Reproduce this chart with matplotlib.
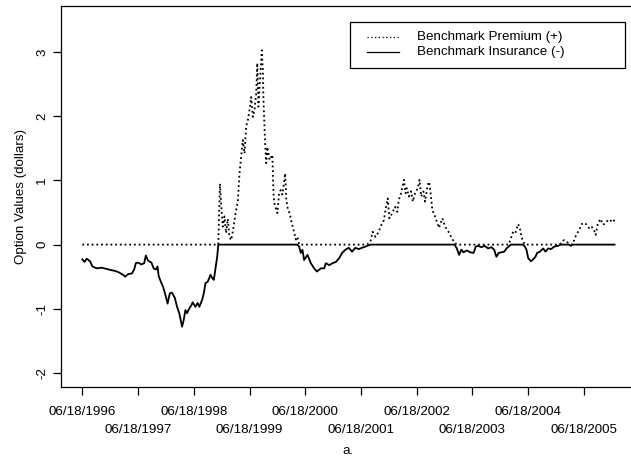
import datetime
import numpy as np
import matplotlib
matplotlib.use("Agg")
import matplotlib.pyplot as plt
from matplotlib.patches import Rectangle
from matplotlib.lines import Line2D

plt.rcParams['font.family'] = ['Liberation Sans', 'DejaVu Sans']

# Observation times (decimal years)
years = [
    1996.46, 1996.50, 1996.54, 1996.60, 1996.64, 1996.72, 1996.81, 1996.90, 1996.99, 1997.05,
    1997.11, 1997.19, 1997.23, 1997.28, 1997.35, 1997.39, 1997.42, 1997.46, 1997.52, 1997.57,
    1997.60, 1997.64, 1997.70, 1997.74, 1997.78, 1997.81, 1997.83, 1997.87, 1997.91, 1997.95,
    1997.99, 1998.03, 1998.07, 1998.12, 1998.16, 1998.20, 1998.23, 1998.25, 1998.28, 1998.31,
    1998.34, 1998.37, 1998.42, 1998.44, 1998.49, 1998.53, 1998.56, 1998.61, 1998.64, 1998.67,
    1998.71, 1998.76, 1998.79, 1998.82, 1998.85, 1998.88, 1998.90, 1998.92, 1998.93, 1998.95,
    1998.98, 1999.01, 1999.04, 1999.07, 1999.10, 1999.13, 1999.16, 1999.21, 1999.25, 1999.28,
    1999.31, 1999.34, 1999.37, 1999.40, 1999.43, 1999.46, 1999.49, 1999.52, 1999.55, 1999.58,
    1999.60, 1999.62, 1999.65, 1999.68, 1999.70, 1999.71, 1999.74, 1999.76, 1999.78, 1999.82,
    1999.85, 1999.87, 1999.89, 1999.91, 1999.94, 1999.96, 1999.99, 2000.02, 2000.05, 2000.10,
    2000.12, 2000.15, 2000.18, 2000.22, 2000.25, 2000.29, 2000.32, 2000.35, 2000.38, 2000.41,
    2000.44, 2000.50, 2000.56, 2000.62, 2000.67, 2000.74, 2000.80, 2000.83, 2000.89, 2000.95,
    2001.01, 2001.07, 2001.12, 2001.18, 2001.24, 2001.30, 2001.36, 2001.42, 2001.48, 2001.57,
    2001.63, 2001.67, 2001.72, 2001.78, 2001.81, 2001.87, 2001.91, 2001.94, 2001.97, 2002.02,
    2002.07, 2002.11, 2002.14, 2002.18, 2002.23, 2002.26, 2002.28, 2002.32, 2002.36, 2002.39,
    2002.43, 2002.48, 2002.51, 2002.54, 2002.58, 2002.61, 2002.65, 2002.68, 2002.71, 2002.74,
    2002.78, 2002.82, 2002.86, 2002.90, 2002.92, 2002.97, 2003.03, 2003.09, 2003.14, 2003.18,
    2003.22, 2003.26, 2003.30, 2003.36, 2003.42, 2003.48, 2003.52, 2003.56, 2003.62, 2003.68,
    2003.74, 2003.80, 2003.85, 2003.89, 2003.93, 2003.98, 2004.03, 2004.07, 2004.11, 2004.15,
    2004.19, 2004.23, 2004.28, 2004.31, 2004.34, 2004.37, 2004.40, 2004.43, 2004.46, 2004.51,
    2004.55, 2004.59, 2004.62, 2004.67, 2004.73, 2004.77, 2004.82, 2004.87, 2004.93, 2004.99,
    2005.05, 2005.10, 2005.14, 2005.19, 2005.23, 2005.26, 2005.30, 2005.34, 2005.38, 2005.42,
    2005.47, 2005.51, 2005.55, 2005.59, 2005.64, 2005.67, 2005.71, 2005.76, 2005.80, 2005.84,
    2005.89, 2005.93, 2005.98, 2006.01,
]

# Benchmark option value (dollars); positive part is the premium, negative part the insurance
value = [
    -0.23, -0.27, -0.22, -0.26, -0.34, -0.37, -0.36, -0.38, -0.40, -0.41,
    -0.43, -0.47, -0.50, -0.46, -0.45, -0.39, -0.29, -0.28, -0.31, -0.29,
    -0.17, -0.25, -0.28, -0.37, -0.39, -0.34, -0.49, -0.58, -0.66, -0.78,
    -0.92, -0.76, -0.75, -0.83, -0.97, -1.07, -1.20, -1.28, -1.17, -1.02,
    -1.07, -1.01, -0.94, -0.90, -0.97, -0.91, -0.97, -0.86, -0.76, -0.60,
    -0.58, -0.47, -0.52, -0.55, -0.37, -0.19, 0.00, 0.60, 0.95, 0.65,
    0.28, 0.44, 0.18, 0.40, 0.12, 0.07, 0.20, 0.49, 0.67, 1.11,
    1.37, 1.63, 1.42, 1.84, 1.94, 2.10, 2.30, 1.99, 2.10, 2.36,
    2.83, 2.15, 2.57, 3.03, 2.72, 2.25, 1.58, 1.27, 1.52, 1.32,
    1.37, 1.40, 0.80, 0.62, 0.55, 0.49, 0.80, 0.85, 0.78, 1.11,
    0.70, 0.54, 0.49, 0.33, 0.23, 0.08, 0.12, -0.03, -0.13, -0.08,
    -0.24, -0.16, -0.29, -0.37, -0.42, -0.37, -0.37, -0.29, -0.32, -0.29,
    -0.27, -0.21, -0.13, -0.08, -0.05, -0.11, -0.05, -0.07, -0.05, -0.02,
    0.05, 0.20, 0.12, 0.20, 0.28, 0.38, 0.59, 0.72, 0.41, 0.49,
    0.59, 0.51, 0.70, 0.80, 1.01, 0.80, 0.88, 0.75, 0.83, 0.67,
    0.80, 0.88, 1.01, 0.75, 0.83, 0.67, 0.90, 0.98, 0.80, 0.54,
    0.46, 0.36, 0.26, 0.36, 0.41, 0.28, 0.20, 0.10, 0.03, -0.06,
    -0.16, -0.08, -0.12, -0.09, -0.12, -0.13, -0.03, -0.02, -0.04, -0.02,
    -0.06, -0.04, -0.08, -0.19, -0.13, -0.12, -0.11, -0.06, -0.03, 0.10,
    0.20, 0.18, 0.32, 0.26, 0.12, 0.05, -0.03, -0.08, -0.21, -0.26,
    -0.23, -0.19, -0.13, -0.11, -0.06, -0.11, -0.06, -0.07, -0.03, -0.02,
    0.02, 0.07, 0.05, 0.02, -0.02, 0.01, 0.11, 0.18, 0.23, 0.32,
    0.34, 0.31, 0.26, 0.29, 0.23, 0.15, 0.33, 0.40, 0.31, 0.33,
    0.38, 0.36, 0.40, 0.36,
]

tick_dates = ["06/18/1996", "06/18/1997", "06/18/1998", "06/18/1999", "06/18/2000",
              "06/18/2001", "06/18/2002", "06/18/2003", "06/18/2004", "06/18/2005"]

y_ticks = [-2, -1, 0, 1, 2, 3]

legend_labels = ["Benchmark Premium (+)", "Benchmark Insurance (-)"]


def to_decimal_year(s):
    m, d, y = (int(p) for p in s.split('/'))
    start = datetime.date(y, 1, 1)
    doy = (datetime.date(y, m, d) - start).days
    ndays = (datetime.date(y + 1, 1, 1) - start).days
    return y + doy / ndays


t = np.array(years)
v = np.array(value)
premium = np.maximum(v, 0.0)
insurance = np.minimum(v, 0.0)

FS = 9.6
fig = plt.figure(figsize=(6.31, 4.61), dpi=100)
ax = fig.add_axes([0.0967, 0.1605, 0.911, 0.8265])

dotted = (0, (1.0, 1.6))
ax.plot(t, premium, color='black', lw=1.3, linestyle=dotted)
ax.plot(t, insurance, color='black', lw=1.3)

r = t.max() - t.min()
ax.set_xlim(t.min() - 0.04 * r, t.max() + 0.04 * r)
ax.set_ylim(-2.22, 3.72)

# staggered date labels: even years on the first row, odd years on the second
tick_pos = [to_decimal_year(s) for s in tick_dates]
ax.set_xticks(tick_pos[0::2])
ax.set_xticklabels(tick_dates[0::2], fontsize=FS)
ax.set_xticks(tick_pos[1::2], minor=True)
ax.set_xticklabels(tick_dates[1::2], minor=True, fontsize=FS)

ax.set_yticks(y_ticks)
ax.set_yticklabels([str(y) for y in y_ticks], rotation=90, va='center', fontsize=FS)
ax.tick_params(axis='both', which='both', direction='out', length=5.8, width=0.9,
               color='black')
ax.tick_params(axis='x', which='major', pad=8)
ax.tick_params(axis='x', which='minor', pad=20.5)
ax.tick_params(axis='y', pad=3.5)

for sp in ax.spines.values():
    sp.set_linewidth(0.9)
    sp.set_color('black')

ax.set_ylabel("Option Values (dollars)", fontsize=FS, labelpad=6.5)
ax.set_xlabel("a.", fontsize=FS, labelpad=6.5)

# legend box
ax.add_patch(Rectangle((0.503, 0.836), 0.478, 0.123, transform=ax.transAxes,
                       fill=False, edgecolor='black', lw=0.9, clip_on=False))
rows = [0.919, 0.880]
styles = [(0, (1.0, 2.0)), '-']
for yy, ls, lab in zip(rows, styles, legend_labels):
    ax.add_line(Line2D([0.532, 0.588], [yy, yy], transform=ax.transAxes,
                       color='black', lw=0.9, linestyle=ls))
    ax.text(0.619, yy, lab, transform=ax.transAxes, va='center', ha='left', fontsize=FS)

fig.savefig("out.png", dpi=100)
